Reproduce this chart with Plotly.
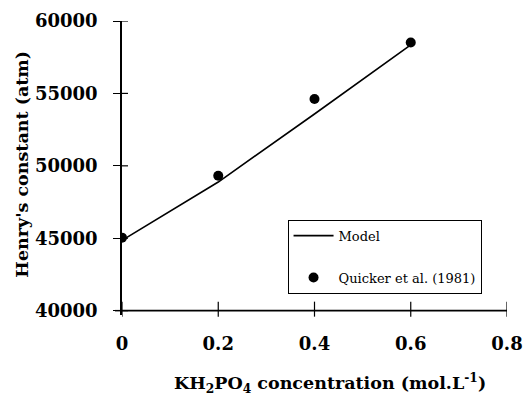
import plotly.graph_objects as go

# Henry's constant of the gas vs. KH2PO4 concentration
conc_model = [0.0, 0.2, 0.4, 0.6]
henry_model = [44850, 48880, 53580, 58350]

conc_exp = [0.0, 0.2, 0.4, 0.6]
henry_exp = [45040, 49310, 54610, 58510]

x_ticks = [0, 0.2, 0.4, 0.6, 0.8]
x_tick_text = ["0", "0.2", "0.4", "0.6", "0.8"]
y_ticks = [40000, 45000, 50000, 55000, 60000]
y_tick_text = ["40000", "45000", "50000", "55000", "60000"]

serif = "DejaVu Serif"
y_lo, y_hi = 39700, 60000
margin_t, margin_b = 21, 80
plot_h = 395 - margin_t - margin_b
plot_w = 529 - 122 - 22
px_per_unit = plot_h / (y_hi - y_lo)
# paper-y of the 40000 baseline
base = (y_ticks[0] - y_lo) * px_per_unit / plot_h

fig = go.Figure()

# horizontal axis line along the 40000 baseline, drawn as a plain line trace
fig.add_trace(go.Scatter(
    x=[x_ticks[0], x_ticks[-1]], y=[y_ticks[0], y_ticks[0]],
    mode="lines", line=dict(color="black", width=1.8),
    showlegend=False, hoverinfo="skip", cliponaxis=False,
))
fig.add_trace(go.Scatter(
    x=conc_model, y=henry_model, mode="lines", name="Model",
    line=dict(color="black", width=1.6), legendgroup="a",
))
fig.add_trace(go.Scatter(
    x=conc_exp, y=henry_exp, mode="markers", name="Quicker et al. (1981)",
    marker=dict(color="black", size=10), legendgroup="b",
))

# short stub of the axis line left of the vertical axis
fig.add_shape(type="line", xref="paper", yref="y",
              x0=-7 / plot_w, x1=0, y0=y_ticks[0], y1=y_ticks[0],
              line=dict(color="black", width=1.5), layer="above")
# crossing tick marks on the horizontal axis
for xv in x_ticks:
    fig.add_shape(type="line", xref="x", yref="paper",
                  x0=xv, x1=xv, y0=base - 6 / plot_h, y1=base + 9 / plot_h,
                  line=dict(color="black", width=1.2), layer="above")
# inner halves of the vertical-axis tick marks
for yv in y_ticks:
    fig.add_shape(type="line", xref="paper", yref="y",
                  x0=0, x1=6 / plot_w, y0=yv, y1=yv,
                  line=dict(color="black", width=1.2), layer="above")

fig.add_annotation(
    text="KH<sub>2</sub>PO<sub>4</sub> concentration (mol.L<sup>-1</sup>)",
    xref="paper", yref="paper", x=(329.5 - 122) / plot_w,
    y=base - 72 / plot_h,
    xanchor="center", yanchor="middle", showarrow=False,
    font=dict(family=serif, size=17.5, color="black", weight="bold"),
)
fig.add_annotation(
    text="Henry's constant (atm)", textangle=-90,
    xref="paper", yref="paper", x=(22 - 122) / plot_w,
    y=base + 146 / plot_h,
    xanchor="center", yanchor="middle", showarrow=False,
    font=dict(family=serif, size=17.5, color="black", weight="bold"),
)

fig.update_layout(
    width=529, height=395,
    margin=dict(l=122, r=22, t=margin_t, b=margin_b),
    paper_bgcolor="white", plot_bgcolor="white",
    showlegend=True,
    legend=dict(
        x=0.43, y=base + 91 / plot_h, xanchor="left", yanchor="top",
        bordercolor="black", borderwidth=1, bgcolor="white",
        font=dict(family=serif, size=13, color="black"),
        traceorder="grouped", tracegroupgap=22,
        itemwidth=40,
    ),
    xaxis=dict(
        range=[0, 0.8], tickvals=x_ticks, ticktext=x_tick_text,
        showgrid=False, zeroline=False, automargin=False,
        showline=False, ticks="",
        ticklabelstandoff=16,
        tickfont=dict(family=serif, size=18, color="black", weight="bold"),
    ),
    yaxis=dict(
        range=[y_lo, y_hi], tickvals=y_ticks, ticktext=y_tick_text,
        showgrid=False, zeroline=False, automargin=False,
        showline=True, linecolor="black", linewidth=1.5,
        ticks="outside", ticklen=7, tickwidth=1.2, tickcolor="black",
        ticklabelstandoff=12,
        tickfont=dict(family=serif, size=18, color="black", weight="bold"),
    ),
)

fig.write_html("out.html")
